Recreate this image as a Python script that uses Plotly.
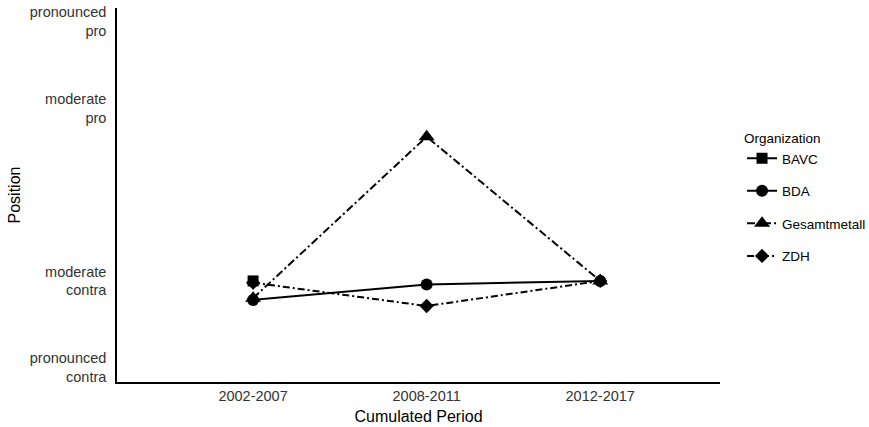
import plotly.graph_objects as go

periods = ["2002-2007", "2008-2011", "2012-2017"]
organizations = ["BAVC", "BDA", "Gesamtmetall", "ZDH"]
values = {
    "BAVC": [-1.0, None, None],
    "BDA": [-1.22, -1.04, -1.0],
    "Gesamtmetall": [-1.2, 0.67, -1.0],
    "ZDH": [-1.02, -1.29, -1.0],
}
y_tick_vals = [-2, -1, 1, 2]
y_tick_text = ["pronounced<br>contra", "moderate<br>contra", "moderate<br>pro", "pronounced<br>pro"]

styles = {
    "BAVC": dict(symbol="square", size=11, dash="solid"),
    "BDA": dict(symbol="circle", size=12, dash="solid"),
    "Gesamtmetall": dict(symbol="triangle-up", size=14, dash="8px,3px,2px,3px"),
    "ZDH": dict(symbol="diamond", size=11, dash="7px,3px,2px,3px"),
}

fig = go.Figure()
for org in organizations:
    s = styles[org]
    fig.add_trace(go.Scatter(
        x=periods, y=values[org], name=org, legendgroup=org,
        mode="lines+markers",
        line=dict(color="black", width=2, dash=s["dash"]),
        marker=dict(symbol=s["symbol"], size=s["size"], color="black"),
        connectgaps=False,
    ))

font = "Liberation Sans, Arial, sans-serif"
fig.update_layout(
    width=869, height=427,
    margin=dict(l=117, r=149, t=8, b=45, autoexpand=False),
    plot_bgcolor="white", paper_bgcolor="white",
    font=dict(family=font, size=13, color="black"),
    showlegend=True,
    legend=dict(
        title=dict(text="Organization", font=dict(size=13.5)),
        xref="container", yref="container",
        x=0.8539, y=0.7063, xanchor="left", yanchor="top",
        tracegroupgap=12, font=dict(size=13.5),
        itemwidth=30,
    ),
    xaxis=dict(
        type="category", categoryorder="array", categoryarray=periods,
        range=[-0.784, 2.69], automargin=False,
        showline=True, linecolor="black", linewidth=1.5,
        showgrid=False, zeroline=False, ticks="",
        tickfont=dict(size=14.5, color="#333333"),
        ticklabelstandoff=0,
        title=dict(text="Cumulated Period", font=dict(size=16), standoff=8),
    ),
    yaxis=dict(
        range=[-2.17, 2.16], automargin=False,
        tickvals=y_tick_vals, ticktext=y_tick_text,
        ticklabeloverflow="allow",
        showline=True, linecolor="black", linewidth=1.5,
        showgrid=False, zeroline=False, ticks="",
        tickfont=dict(size=14.5, color="#333333"),
        ticklabelstandoff=6,
        title=dict(text="Position", font=dict(size=16), standoff=5),
    ),
)

fig.write_html(
    "out.html",
    config={"displayModeBar": False},
    post_script="document.body.style.margin='0px';",
)
